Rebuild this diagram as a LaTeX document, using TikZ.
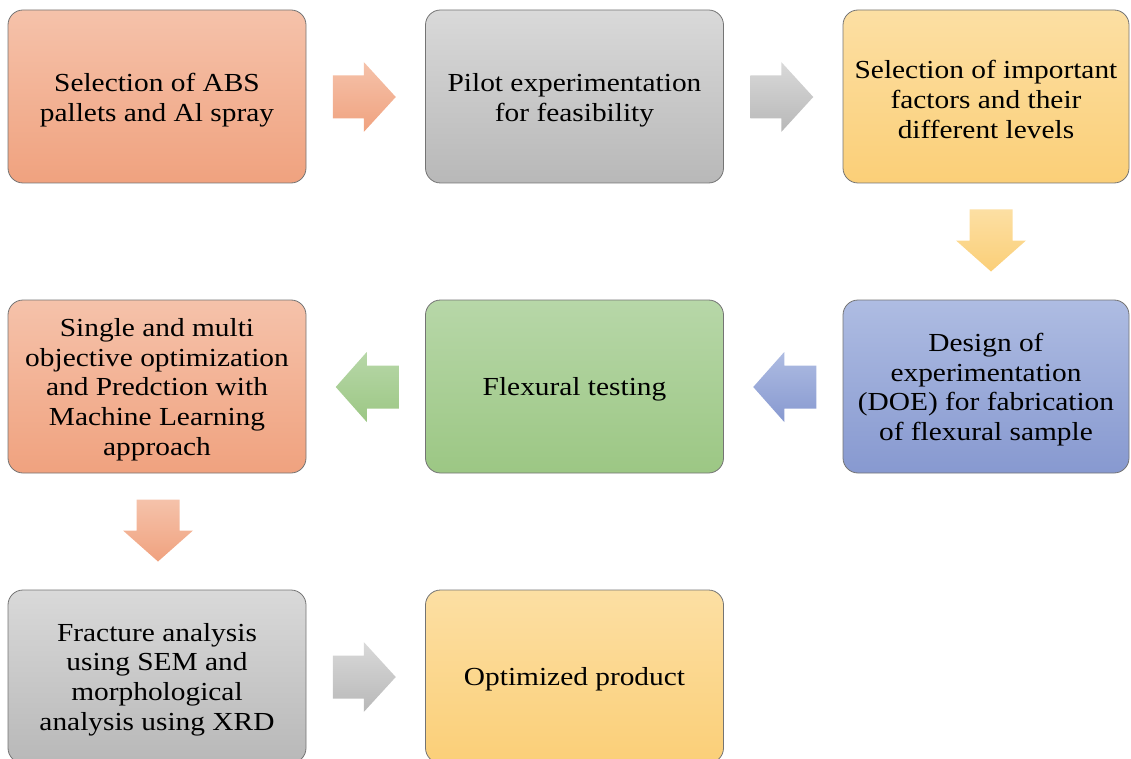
\documentclass[tikz,border=0pt]{standalone}
\usepackage{fontspec}
\setmainfont{Liberation Serif}[FakeStretch=1.13]
\usetikzlibrary{calc}
\definecolor{salT}{HTML}{F5C2AA}\definecolor{salB}{HTML}{F0A27F}
\definecolor{gryT}{HTML}{D9D9D9}\definecolor{gryB}{HTML}{B8B8B8}
\definecolor{yelT}{HTML}{FCDFA3}\definecolor{yelB}{HTML}{FBCF78}
\definecolor{bluT}{HTML}{AEBCE2}\definecolor{bluB}{HTML}{8799D0}
\definecolor{grnT}{HTML}{B7D7A8}\definecolor{grnB}{HTML}{9CC784}
\definecolor{edgeC}{HTML}{747474}
\newcommand\ArrRight[3]{\shade[top color=#2,bottom color=#3] ([shift={(-31.5,-21.5)}]#1) -- ++(31,0) -- ++(0,-13.5) -- ++(32,35) -- ++(-32,35) -- ++(0,-13.5) -- ++(-31,0) -- cycle;}
\newcommand\ArrLeft[3]{\shade[top color=#2,bottom color=#3] ([shift={(31.5,-21.5)}]#1) -- ++(-32,0) -- ++(0,-13.5) -- ++(-31,35) -- ++(31,35) -- ++(0,-13.5) -- ++(32,0) -- cycle;}
\newcommand\ArrDown[3]{\shade[top color=#2,bottom color=#3] ([shift={(-21.5,-31)}]#1) -- ++(43,0) -- ++(0,31) -- ++(13.5,0) -- ++(-35,31) -- ++(-35,-31) -- ++(13.5,0) -- cycle;}
\begin{document}
\begin{tikzpicture}[x=1pt,y=-1pt,
  box/.style={draw=edgeC,line width=0.8pt,rounded corners=15pt,minimum height=173pt,inner sep=0pt},
  boxW/.style={box,minimum width=298pt},
  boxN/.style={box,minimum width=286pt},
  txt/.style={align=center,inner sep=0pt,font=\fontsize{26}{29.7}\selectfont}]
\useasboundingbox (0,0) rectangle (1131,759);
\begin{scope}
\clip (0,0) rectangle (1131,759);
\node[boxW,top color=salT,bottom color=salB] (n1) at (157,96.5) {};
\node[boxW,top color=gryT,bottom color=gryB] (n2) at (574.5,96.5) {};
\node[boxN,top color=yelT,bottom color=yelB] (n3) at (986,96.5) {};
\node[boxN,top color=bluT,bottom color=bluB] (n4) at (986,386.5) {};
\node[boxW,top color=grnT,bottom color=grnB] (n5) at (574.5,386.5) {};
\node[boxW,top color=salT,bottom color=salB] (n6) at (157,386.5) {};
\node[boxW,top color=gryT,bottom color=gryB] (n7) at (157,676.5) {};
\node[boxW,top color=yelT,bottom color=yelB] (n8) at (574.5,676.5) {};
\node[txt] (t1) at ([yshift=-3.5pt]n1.center) {Selection of ABS\\pallets and Al spray};
\node[txt] (t2) at ([yshift=-3.5pt]n2.center) {Pilot experimentation\\for feasibility};
\node[txt] (t3) at ([yshift=-3pt]n3.center) {Selection of important\\factors and their\\different levels};
\node[txt] (t4) at ([yshift=-3pt]n4.center) {Design of\\experimentation\\(DOE) for fabrication\\of flexural sample};
\node[txt] (t5) at ([yshift=-3pt]n5.center) {Flexural testing};
\node[txt] (t6) at ([yshift=-3pt]n6.center) {Single and multi\\objective optimization\\and Predction with\\Machine Learning\\approach};
\node[txt] (t7) at ([yshift=-3pt]n7.center) {Fracture analysis\\using SEM and\\morphological\\analysis using XRD};
\node[txt] (t8) at ([yshift=-3pt]n8.center) {Optimized product};
\coordinate (a12) at ($(n1.east)!0.5!(n2.west)+(-1.5,0.5)$);
\coordinate (a23) at ($(n2.east)!0.5!(n3.west)+(-1.5,0.5)$);
\coordinate (a34) at ($(n3.south)!0.5!(n4.north)+(5,-1)$);
\coordinate (a45) at ($(n4.west)!0.5!(n5.east)+(1.5,0.5)$);
\coordinate (a56) at ($(n5.west)!0.5!(n6.east)+(1.5,0.5)$);
\coordinate (a67) at ($(n6.south)!0.5!(n7.north)+(1,-1)$);
\coordinate (a78) at ($(n7.east)!0.5!(n8.west)+(-1.5,0.5)$);
\ArrRight{a12}{salT}{salB}
\ArrRight{a23}{gryT}{gryB}
\ArrDown{a34}{yelT}{yelB}
\ArrLeft{a45}{bluT}{bluB}
\ArrLeft{a56}{grnT}{grnB}
\ArrDown{a67}{salT}{salB}
\ArrRight{a78}{gryT}{gryB}
\end{scope}
\end{tikzpicture}
\end{document}
